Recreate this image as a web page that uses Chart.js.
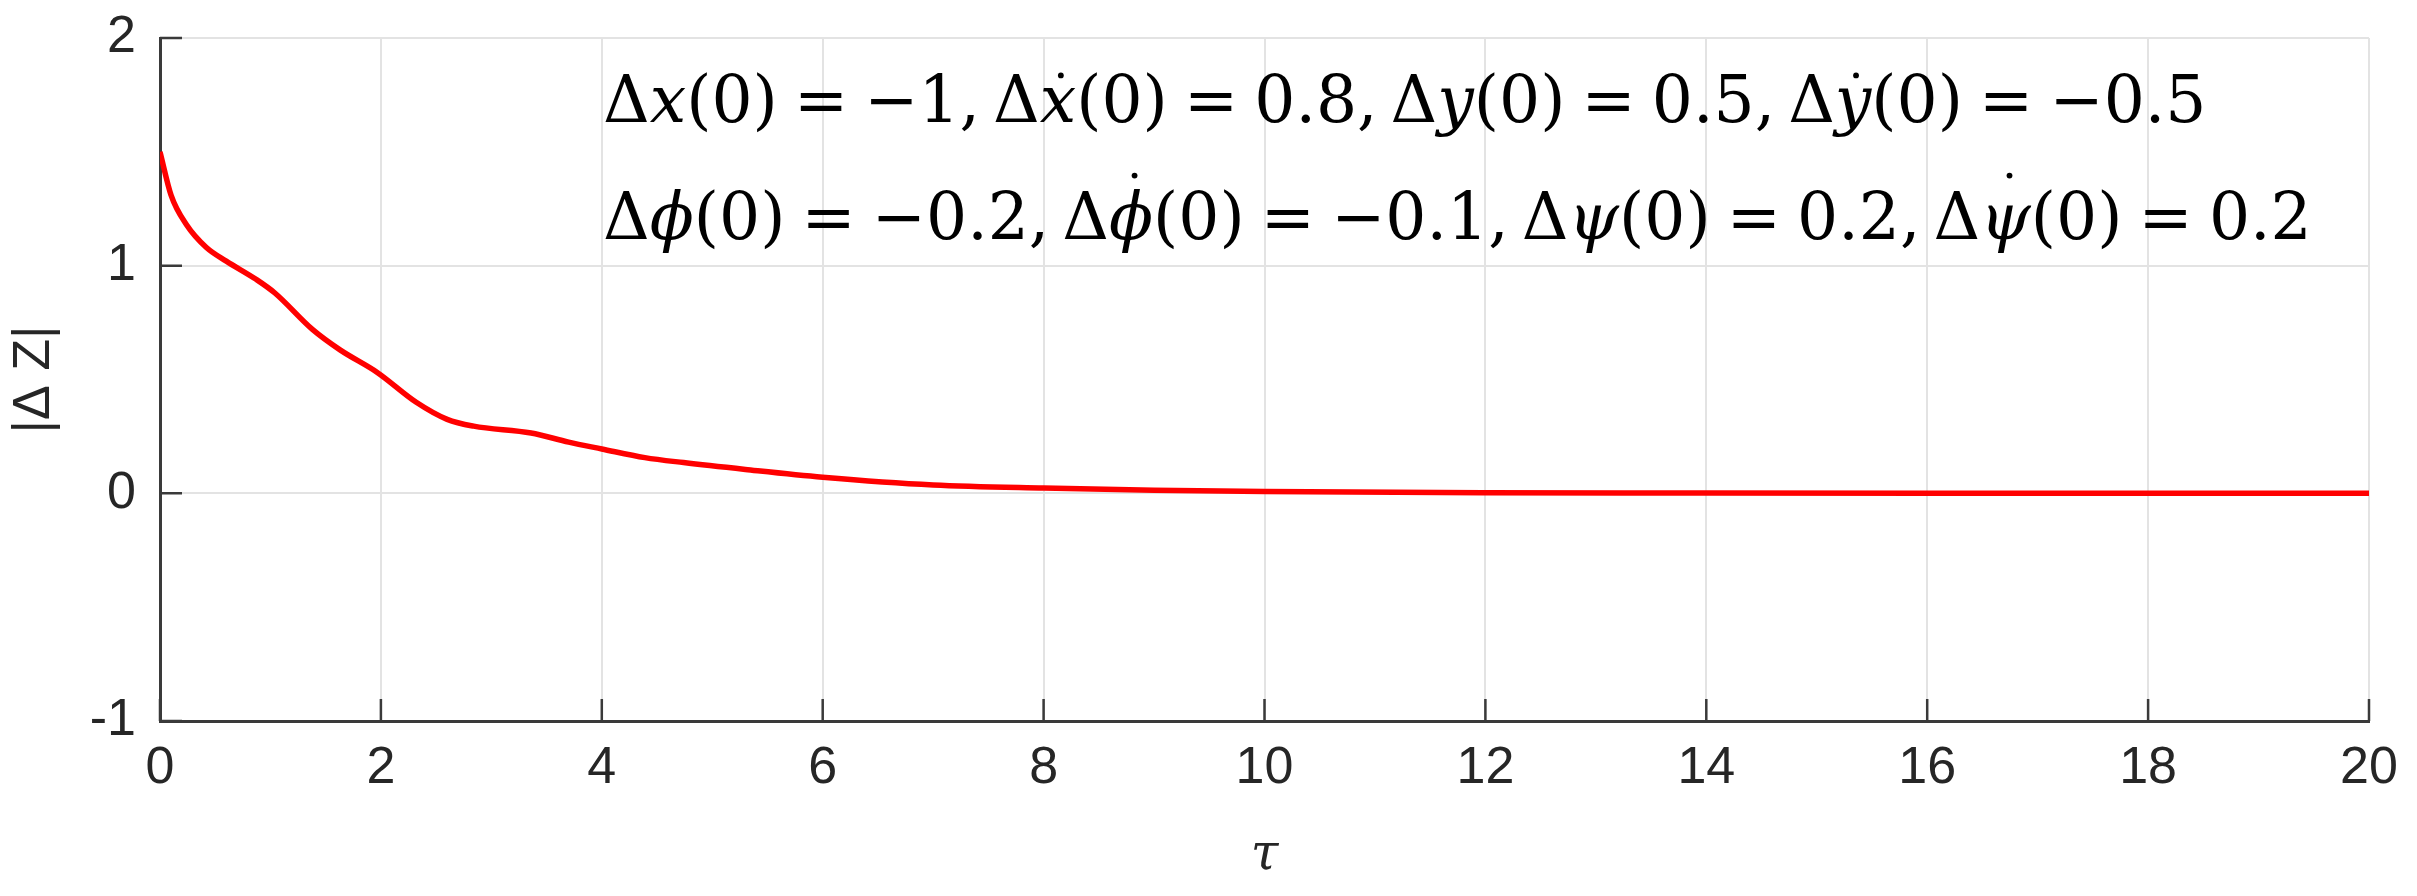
<!DOCTYPE html>
<html>
<head>
<meta charset="utf-8">
<script src="https://cdn.jsdelivr.net/npm/chart.js@4.4.1/dist/chart.umd.min.js"></script>
<style>
  html, body { margin: 0; padding: 0; background: #fff; }
  canvas { display: block; }
</style>
</head>
<body>
<canvas id="dz-chart" width="2417" height="896"></canvas>
<script>
// values
const tau = [0, 0.1, 0.24, 0.42, 0.6, 0.87, 1.04, 1.38, 1.63, 1.97, 2.32, 2.6, 2.84, 3.36, 3.7, 4.0, 4.39, 4.74, 5.3, 6, 7, 8, 9, 10, 12, 14, 16, 18, 20];
const dz = [1.50, 1.31, 1.18, 1.08, 1.02, 0.94, 0.88, 0.72, 0.63, 0.53, 0.40, 0.325, 0.295, 0.265, 0.225, 0.195, 0.157, 0.135, 0.105, 0.071, 0.037, 0.023, 0.014, 0.008, 0.003, 0.001, 0, 0, 0];
const xTicks = [0, 2, 4, 6, 8, 10, 12, 14, 16, 18, 20];
const yTicks = [-1, 0, 1, 2];

// annotation lines, pieces: [text, italic, dot height (em) or 0]
// \u2005 is about the thick space tex puts round "="
const noteLine1 = [
  ['Δ', false], ['x', true], ['(0)\u2005=\u2005−1,\u2009', false],
  ['Δ', false], ['x', true, 0.72], ['(0)\u2005=\u20050.8,\u2009', false],
  ['Δ', false], ['y', true], ['(0)\u2005=\u20050.5,\u2009', false],
  ['Δ', false], ['y', true, 0.72], ['(0)\u2005=\u2005−0.5', false]
];
const noteLine2 = [
  ['Δ', false], ['ϕ', true], ['(0)\u2005=\u2005−0.2,\u2009', false],
  ['Δ', false], ['ϕ', true, 0.98], ['(0)\u2005=\u2005−0.1,\u2009', false],
  ['Δ', false], ['ψ', true], ['(0)\u2005=\u20050.2,\u2009', false],
  ['Δ', false], ['ψ', true, 0.98], ['(0)\u2005=\u20050.2', false]
];

const axisColor = '#3a3a3a';
const gridColor = '#e3e3e3';
const sans = '"Liberation Sans", Arial, sans-serif';
const serif = '"DejaVu Serif", "Liberation Serif", serif';

const points = tau.map((t, i) => ({ x: t, y: dz[i] }));

// matlab style ticks pointing into the plot
const innerTicks = {
  id: 'innerTicks',
  afterDraw(chart) {
    const ctx = chart.ctx;
    const area = chart.chartArea;
    const len = 22;
    ctx.save();
    ctx.strokeStyle = axisColor;
    ctx.lineWidth = 2.5;
    ctx.beginPath();
    xTicks.forEach(v => {
      const px = chart.scales.x.getPixelForValue(v);
      ctx.moveTo(px, area.bottom);
      ctx.lineTo(px, area.bottom - len);
    });
    yTicks.forEach(v => {
      const py = chart.scales.y.getPixelForValue(v);
      ctx.moveTo(area.left, py);
      ctx.lineTo(area.left + len, py);
    });
    ctx.stroke();
    ctx.restore();
  }
};

function lineWidthAt(ctx, pieces, size) {
  let w = 0;
  pieces.forEach(p => {
    ctx.font = (p[1] ? 'italic ' : '') + size + 'px ' + serif;
    w += ctx.measureText(p[0]).width;
  });
  return w;
}

function drawNoteLine(ctx, pieces, x, y, size) {
  pieces.forEach(p => {
    ctx.font = (p[1] ? 'italic ' : '') + size + 'px ' + serif;
    const w = ctx.measureText(p[0]).width;
    ctx.fillText(p[0], x, y);
    if (p[2]) {
      ctx.beginPath();
      ctx.arc(x + w * 0.58, y - size * p[2], size * 0.045, 0, Math.PI * 2);
      ctx.fill();
    }
    x += w;
  });
}

const noteText = {
  id: 'noteText',
  afterDraw(chart) {
    const ctx = chart.ctx;
    ctx.save();
    ctx.fillStyle = '#000';
    ctx.textBaseline = 'alphabetic';
    ctx.textAlign = 'left';
    // size so that the first line spans the same width as in the figure
    const size = 60 * 1604 / lineWidthAt(ctx, noteLine1, 60);
    drawNoteLine(ctx, noteLine1, 603, 122, size);
    drawNoteLine(ctx, noteLine2, 603, 239, size);
    ctx.restore();
  }
};

const ctx = document.getElementById('dz-chart').getContext('2d');
new Chart(ctx, {
  type: 'line',
  data: {
    datasets: [{
      data: points,
      borderColor: '#ff0000',
      borderWidth: 5.5,
      pointRadius: 0,
      fill: false,
      cubicInterpolationMode: 'monotone'
    }]
  },
  options: {
    responsive: false,
    animation: false,
    layout: { padding: { top: 38, right: 48, left: 0, bottom: 0 } },
    plugins: {
      legend: { display: false },
      tooltip: { enabled: false }
    },
    scales: {
      x: {
        type: 'linear',
        min: 0,
        max: 20,
        afterFit(scale) {
          scale.height = 175;
          scale.paddingLeft = 0;
          scale.paddingRight = 0;
        },
        afterBuildTicks(scale) { scale.ticks = xTicks.map(v => ({ value: v })); },
        grid: { color: gridColor, lineWidth: 2, drawTicks: false },
        border: { display: true, color: axisColor, width: 3 },
        ticks: {
          padding: 16,
          color: '#262626',
          font: { family: sans, size: 52 },
          maxRotation: 0
        },
        title: {
          display: true,
          text: 'τ',
          color: '#262626',
          font: { family: serif, size: 50, style: 'italic' },
          padding: { top: 0, bottom: 10 }
        }
      },
      y: {
        type: 'linear',
        min: -1,
        max: 2,
        afterFit(scale) {
          scale.width = 160;
          scale.paddingTop = 0;
          scale.paddingBottom = 0;
        },
        afterBuildTicks(scale) { scale.ticks = yTicks.map(v => ({ value: v })); },
        grid: { color: gridColor, lineWidth: 2, drawTicks: false },
        border: { display: true, color: axisColor, width: 3 },
        ticks: {
          padding: 24,
          color: '#262626',
          font: { family: sans, size: 52 },
          callback: v => String(v)
        },
        title: {
          display: true,
          text: '|Δ Z|',
          color: '#262626',
          font: { family: sans, size: 52 },
          padding: { top: 3, bottom: 0 }
        }
      }
    }
  },
  plugins: [innerTicks, noteText]
});
</script>
</body>
</html>
